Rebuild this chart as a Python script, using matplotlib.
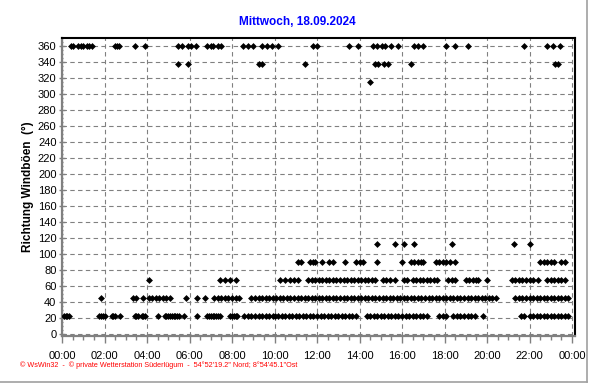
import numpy as np
import matplotlib
matplotlib.use('Agg')
import matplotlib.pyplot as plt
from matplotlib.ticker import MultipleLocator, FixedLocator
from matplotlib.lines import Line2D

plt.rcParams['font.family'] = ['Liberation Sans', 'DejaVu Sans']

# wind gust direction readings, time in minutes of the day, one list per direction
dir_22 = [5, 10, 15, 20, 105, 110, 115, 120, 140, 145, 150, 165, 205, 210, 215, 225, 230, 235,
          270, 290, 295, 300, 305, 310, 315, 320, 325, 330, 345, 380,
          410, 415, 420, 425, 430, 435, 440, 445, 475, 480, 485, 490, 495,
          515, 525, 535, 545, 555, 565, 575, 585, 595, 600, 610, 620, 630, 640, 650, 660,
          670, 680, 690, 700, 710, 720, 730, 740, 750, 760, 770, 780, 790, 800, 810, 820, 830,
          860, 870, 880, 890, 900, 910, 920, 930, 940, 950, 960, 970, 980, 990, 1000, 1010,
          1020, 1030, 1065, 1075, 1085, 1105, 1115, 1125, 1135, 1145, 1155, 1165, 1190,
          1295, 1305, 1320, 1330, 1340, 1350, 1360, 1370, 1380, 1390, 1400, 1410, 1420, 1430]
dir_45 = [110, 200, 210, 230, 245, 255, 265, 275, 285, 295, 305, 350, 380, 405,
          430, 440, 450, 460, 470, 480, 490, 500,
          535, 545, 555, 565, 575, 585, 595, 605, 615, 625, 635, 645, 655, 665, 675, 685,
          695, 705, 715, 725, 735, 745, 755, 765, 775, 785, 795, 805, 815, 825, 835, 845,
          855, 865, 875, 885, 895, 905, 915, 925, 935, 945, 955, 965, 975, 985, 995, 1005,
          1015, 1025, 1035, 1045, 1055, 1065, 1075, 1085, 1095, 1105, 1115, 1125, 1135,
          1145, 1155, 1165, 1175, 1185, 1195, 1205, 1215, 1225,
          1280, 1290, 1300, 1310, 1320, 1330, 1340, 1350, 1360, 1370, 1380, 1390, 1400,
          1410, 1420, 1430]
dir_67 = [245, 445, 460, 475, 490, 615, 630, 645, 655, 665, 695, 705, 715, 725, 735,
          745, 755, 765, 775, 785, 795, 805, 815, 825, 835, 845, 855, 865, 875, 885,
          905, 915, 925, 940, 965, 975, 990, 1000, 1010, 1020, 1030, 1040, 1050, 1060,
          1090, 1100, 1110, 1140, 1150, 1160, 1170, 1175, 1200,
          1270, 1280, 1290, 1300, 1310, 1320, 1330, 1345,
          1370, 1380, 1390, 1400, 1410, 1420]
dir_90 = [665, 675, 700, 710, 715, 735, 755, 765, 800, 830, 840, 850, 890, 960,
          985, 995, 1005, 1015, 1020, 1055, 1065, 1075, 1085, 1095, 1110,
          1350, 1360, 1370, 1380, 1390, 1410, 1420]
dir_112 = [890, 940, 965, 995, 1100, 1275, 1320]
dir_315 = [870]
dir_337 = [328, 357, 555, 565, 685, 885, 892, 910, 920, 985, 1393, 1400]
dir_360 = [25, 30, 45, 55, 60, 70, 75, 85, 150, 155, 160, 205, 235,
           328, 338, 357, 363, 378, 410, 420, 425, 440, 450, 511, 525, 539,
           565, 580, 593, 610, 710, 720, 810, 835, 878, 889, 904, 912, 930, 950,
           995, 1005, 1020, 1085, 1110, 1145, 1305, 1370, 1385, 1405]

series = [(22.5, dir_22), (45, dir_45), (67.5, dir_67), (90, dir_90),
          (112.5, dir_112), (315, dir_315), (337.5, dir_337), (360, dir_360)]

hour_labels = ['00:00', '02:00', '04:00', '06:00', '08:00', '10:00', '12:00',
               '14:00', '16:00', '18:00', '20:00', '22:00', '00:00']

fig = plt.figure(figsize=(5.92, 3.84), dpi=100)
ax = fig.add_axes([62/592, 1 - 336/384, (575 - 62)/592, (336 - 38)/384])

for deg, mins in series:
    t = np.array(mins) / 60.0
    ax.plot(t, np.full(len(t), deg), 'D', color='black', markersize=3.5,
            markeredgewidth=0, zorder=3)

ax.set_xlim(0, 24.14)
ax.set_ylim(-2, 370)
ax.xaxis.set_major_locator(FixedLocator(np.arange(0, 25, 2)))
ax.set_xticklabels(hour_labels)
ax.xaxis.set_minor_locator(MultipleLocator(0.5))
ax.yaxis.set_major_locator(MultipleLocator(20))
ax.yaxis.set_minor_locator(MultipleLocator(5))
ax.set_yticks(np.arange(0, 361, 20))

ax.grid(True, which='major', color='#808080', linestyle=(0, (4, 3)), linewidth=0.8)
ax.tick_params(axis='both', which='both', labelsize=8, color='#808080')
ax.tick_params(axis='x', which='major', length=5, width=1, direction='out', pad=6)
ax.tick_params(axis='x', which='minor', length=3, width=1, direction='out')
ax.tick_params(axis='y', which='major', length=4, width=1, direction='inout', pad=2)
ax.tick_params(axis='y', which='minor', length=2, width=1, direction='inout')

for side in ['left', 'bottom']:
    ax.spines[side].set_color('#808080')
    ax.spines[side].set_linewidth(1.6)
for side in ['top', 'right']:
    ax.spines[side].set_color('black')
    ax.spines[side].set_linewidth(1.5)

ax.set_ylabel('Richtung Windböen  (°)', fontsize=8.5, fontweight='bold', labelpad=3)

fig.text(297/592, 1 - 22/384, 'Mittwoch, 18.09.2024', color='#0000ff', fontsize=8.5,
         fontweight='bold', ha='center', va='center')
fig.text(20/592, 1 - 365/384,
         '© WsWin32  -  © private Wetterstation Süderlügum  -  54°52\'19.2" Nord; 8°54\'45.1"Ost',
         color='red', fontsize=5.2, ha='left', va='center')

# thin grey frame at right and bottom of the picture
fig.add_artist(Line2D([587/592, 587/592], [1 - 382/384, 1], transform=fig.transFigure,
                      color='#a0a0a0', linewidth=1.2))
fig.add_artist(Line2D([0, 587/592], [1 - 382/384, 1 - 382/384], transform=fig.transFigure,
                      color='#a0a0a0', linewidth=1.2))

plt.savefig('out.png', dpi=100)
